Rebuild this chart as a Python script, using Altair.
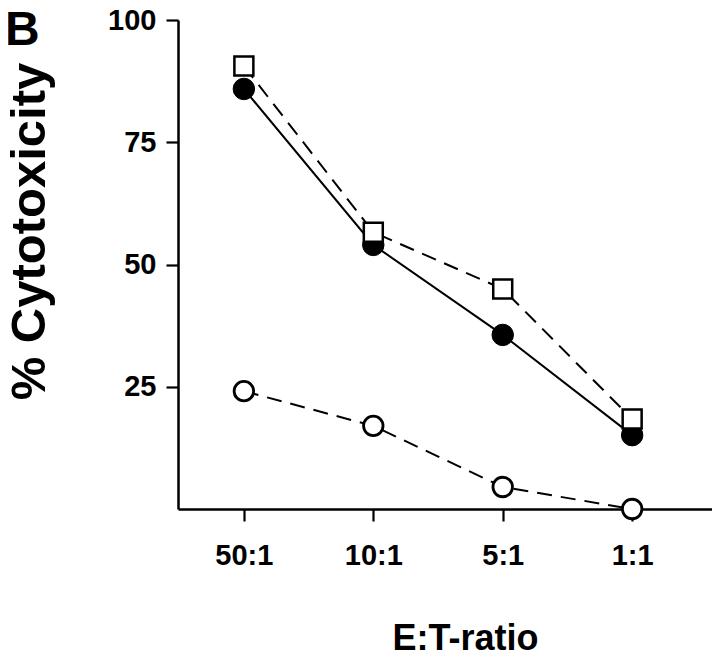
import json
import altair as alt
import pandas as pd

# ---- data ----
ratios = ["50:1", "10:1", "5:1", "1:1"]
filled_circle = [85.9, 54.0, 35.6, 15.1]
open_square = [90.6, 56.6, 45.0, 18.4]
open_circle = [24.1, 17.0, 4.5, 0.0]
y_ticks = [25, 50, 75, 100]

idx = list(range(1, len(ratios) + 1))
df_fc = pd.DataFrame({"idx": idx, "ratio": ratios, "v": filled_circle})
df_sq = pd.DataFrame({"idx": idx, "ratio": ratios, "v": open_square})
df_oc = pd.DataFrame({"idx": idx, "ratio": ratios, "v": open_circle})

FONT = "Liberation Sans"
label_expr = json.dumps(ratios) + "[datum.value - 1]"

x_enc = alt.X(
    "idx:Q",
    scale=alt.Scale(domain=[0.491, 4.617], nice=False, zero=False),
    axis=alt.Axis(
        values=idx,
        labelExpr=label_expr,
        title="E:T-ratio",
        titleX=287,
        titleY=140,
        titleAlign="center",
        titleBaseline="alphabetic",
        titleFontSize=36,
        labelPadding=20,
        labelFontSize=29,
        tickSize=12,
    ),
)
y_enc = alt.Y(
    "v:Q",
    scale=alt.Scale(domain=[0, 100], nice=False),
    axis=alt.Axis(
        values=y_ticks,
        title="% Cytotoxicity",
        titleAngle=270,
        titleX=-134,
        titleY=211,
        titleAlign="center",
        titleBaseline="alphabetic",
        titleFontSize=49,
        labelPadding=10,
        labelFontSize=29,
        tickSize=12,
    ),
)

line_solid = alt.Chart(df_fc).mark_line(color="black", strokeWidth=2).encode(x=x_enc, y=y_enc)
line_sq = alt.Chart(df_sq).mark_line(color="black", strokeWidth=2, strokeDash=[15, 9]).encode(x=x_enc, y=y_enc)
line_oc = alt.Chart(df_oc).mark_line(color="black", strokeWidth=2, strokeDash=[15, 9]).encode(x=x_enc, y=y_enc)

pts_fc = alt.Chart(df_fc).mark_point(
    shape="circle", filled=True, fill="black", stroke="black", strokeWidth=1, size=460, opacity=1
).encode(x=x_enc, y=y_enc)
pts_sq = alt.Chart(df_sq).mark_point(
    shape="square", filled=True, fill="white", stroke="black", strokeWidth=2.5, size=360, opacity=1
).encode(x=x_enc, y=y_enc)
pts_oc = alt.Chart(df_oc).mark_point(
    shape="circle", filled=True, fill="white", stroke="black", strokeWidth=2.8, size=380, opacity=1
).encode(x=x_enc, y=y_enc)

panel_letter = alt.Chart(pd.DataFrame({"t": ["B"]})).mark_text(
    font=FONT, fontSize=48, fontWeight="bold", align="left", baseline="alphabetic", color="black"
).encode(text="t:N", x=alt.value(-173), y=alt.value(25))

chart = (
    alt.layer(line_solid, line_sq, line_oc, pts_fc, pts_sq, pts_oc, panel_letter)
    .properties(
        width=534,
        height=489,
        autosize=alt.AutoSizeParams(type="none"),
        padding={"left": 170, "top": 12, "right": 0, "bottom": 150},
    )
    .configure_view(stroke=None)
    .configure_axis(
        grid=False,
        domainColor="black",
        domainWidth=2.5,
        tickColor="black",
        tickWidth=2.2,
        labelFont=FONT,
        labelFontWeight="bold",
        labelColor="black",
        titleFont=FONT,
        titleFontWeight="bold",
        titleColor="black",
    )
)

chart.save("out.html", embed_options={"renderer": "svg", "actions": False})
